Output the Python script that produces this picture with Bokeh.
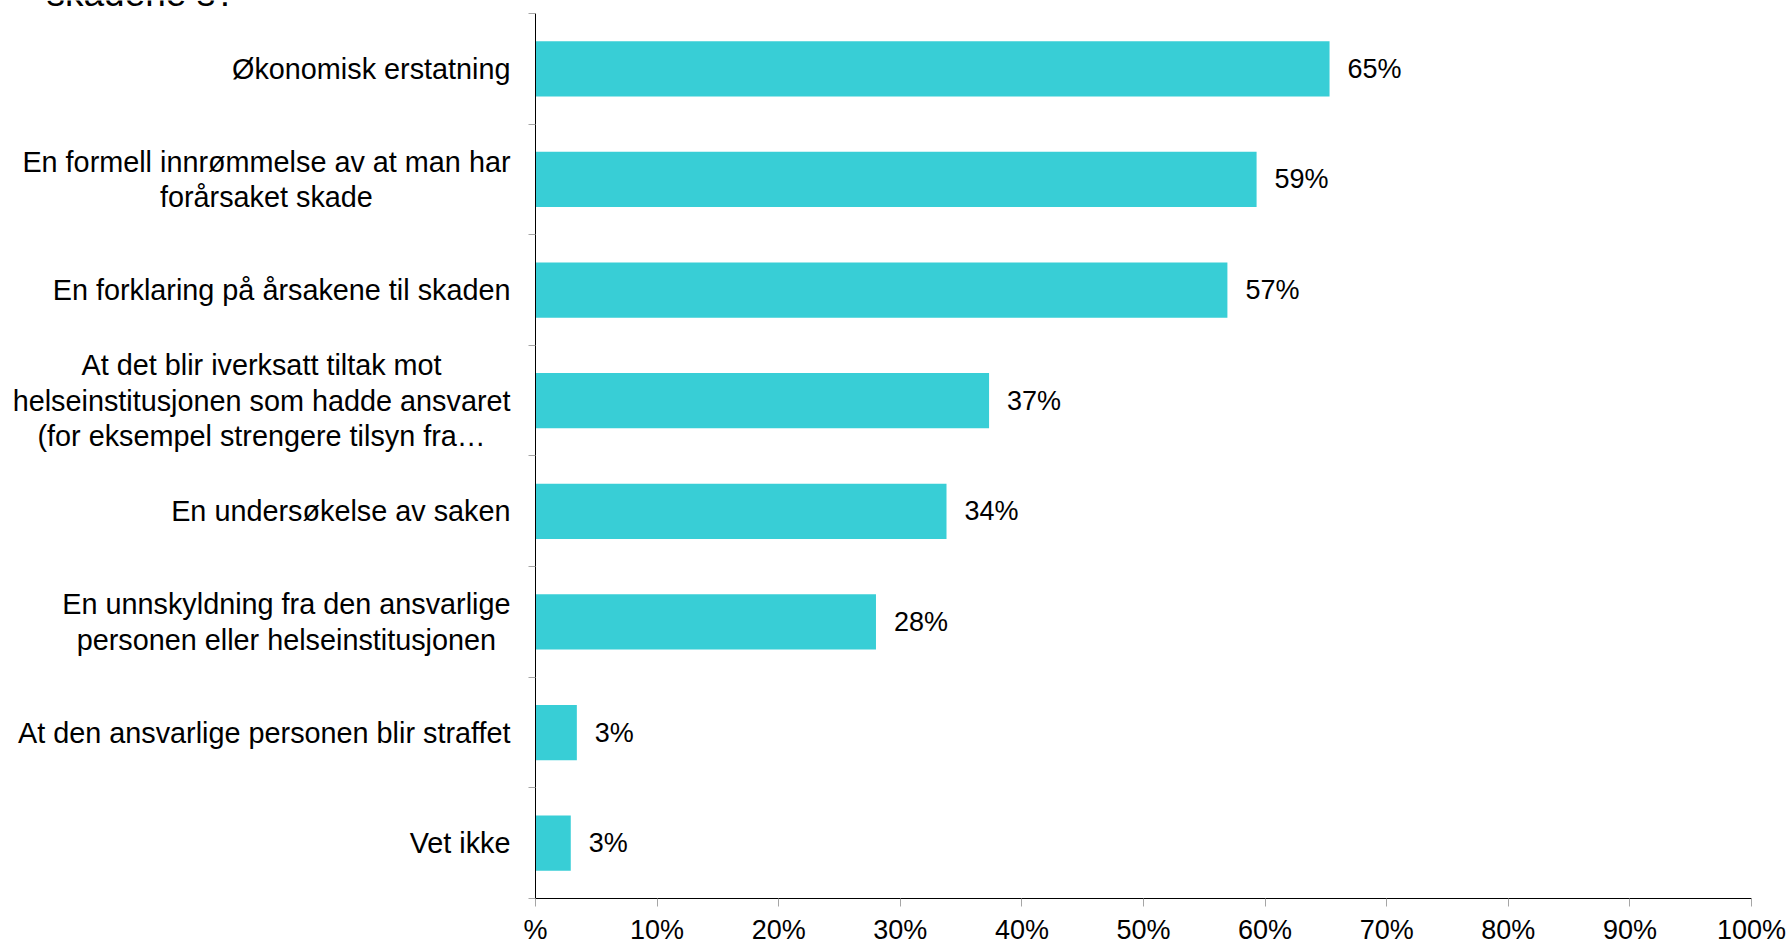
from bokeh.plotting import figure
from bokeh.layouts import row
from bokeh.models import Range1d, FixedTicker, LinearAxis, LabelSet, ColumnDataSource
from bokeh.core.properties import value
from bokeh.embed import file_html
from bokeh.resources import INLINE

# ---- data (top to bottom as shown) ----
categories = [
    "Økonomisk erstatning",
    "En formell innrømmelse av at man har\nforårsaket skade",
    "En forklaring på årsakene til skaden",
    "At det blir iverksatt tiltak mot\nhelseinstitusjonen som hadde ansvaret\n(for eksempel strengere tilsyn fra…",
    "En undersøkelse av saken",
    "En unnskyldning fra den ansvarlige\npersonen eller helseinstitusjonen",
    "At den ansvarlige personen blir straffet",
    "Vet ikke",
]
values = [65.3, 59.3, 56.9, 37.3, 33.8, 28.0, 3.4, 2.9]
value_labels = ["65%", "59%", "57%", "37%", "34%", "28%", "3%", "3%"]
x_ticks = [0, 10, 20, 30, 40, 50, 60, 70, 80, 90, 100]
x_tick_labels = ["%", "10%", "20%", "30%", "40%", "50%", "60%", "70%", "80%", "90%", "100%"]
title_fragment = ["skadene s?"]

FONT = "Liberation Sans"
BAR = "#38CED6"

# ---- layout constants (pixels) ----
W, H = 1791, 947
FRAME_LEFT, FRAME_TOP, FRAME_BOTTOM, FRAME_RIGHT_PAD = 535, 13, 899, 40
LABEL_W = 515           # width of the label panel on the left
LABEL_GAP = 25          # gap between category text and the axis
TITLE_X, TITLE_BASELINE = 46, 5

n = len(categories)
positions = [n - i - 0.5 for i in range(n)]
source = ColumnDataSource(dict(cat=categories, val=values, lab=value_labels, pos=positions))

# both panels share the same vertical frame (top of canvas to the x axis)
unit = (FRAME_BOTTOM - FRAME_TOP) / n
y_end = n + FRAME_TOP / unit

# ---- main bar chart ----
p = figure(width=W - LABEL_W, height=H, output_backend="svg", toolbar_location=None,
           x_range=Range1d(0, 100), y_range=Range1d(0, y_end),
           x_axis_location=None, y_axis_location=None,
           min_border_left=FRAME_LEFT - LABEL_W, min_border_right=FRAME_RIGHT_PAD,
           min_border_top=0, min_border_bottom=H - FRAME_BOTTOM)
p.outline_line_color = None
p.xgrid.visible = False
p.ygrid.visible = False

p.hbar(y="pos", right="val", left=0, height=0.5, source=source,
       fill_color=BAR, line_color=None)

xa = LinearAxis(ticker=FixedTicker(ticks=x_ticks))
xa.major_label_overrides = {t: s for t, s in zip(x_ticks, x_tick_labels)}
xa.axis_line_color = "black"
xa.major_tick_line_color = "#A6A6A6"
xa.major_tick_out = 8
xa.major_tick_in = 0
xa.minor_tick_line_color = None
xa.major_label_text_font = FONT
xa.major_label_text_font_size = "27px"
xa.major_label_text_color = "black"
xa.major_label_standoff = 8
p.add_layout(xa, "below")

ya_ticks = list(range(n + 1))
ya = LinearAxis(ticker=FixedTicker(ticks=ya_ticks), bounds=(0, n))
ya.major_label_overrides = {t: "" for t in ya_ticks}
ya.axis_line_color = "black"
ya.major_tick_line_color = "#A6A6A6"
ya.major_tick_out = 7
ya.major_tick_in = 0
ya.minor_tick_line_color = None
p.add_layout(ya, "left")

p.add_layout(LabelSet(x="val", y="pos", text="lab", source=source, x_offset=18,
                      text_baseline="middle", text_align="left",
                      text_font=value(FONT), text_font_size=value("27px"), text_color="black"))

# ---- category label panel ----
lp = figure(width=LABEL_W, height=H, output_backend="svg", toolbar_location=None,
            x_range=Range1d(0, LABEL_W), y_range=Range1d(0, y_end),
            x_axis_location=None, y_axis_location=None,
            min_border_left=0, min_border_right=0, min_border_top=0,
            min_border_bottom=H - FRAME_BOTTOM)
lp.outline_line_color = None
lp.xgrid.visible = False
lp.ygrid.visible = False

lsrc = ColumnDataSource(dict(cat=categories, pos=positions,
                             x=[FRAME_LEFT - LABEL_GAP] * n))
lp.text(x="x", y="pos", text="cat", source=lsrc, anchor="center_right",
        text_align="center", text_baseline="middle",
        text_font=value(FONT), text_font_size=value("28.8px"), text_color="black",
        text_line_height=1.1)

tsrc = ColumnDataSource(dict(t=title_fragment, x=[TITLE_X], y=[y_end - TITLE_BASELINE / unit]))
lp.text(x="x", y="y", text="t", source=tsrc, text_align="left", text_baseline="alphabetic",
        y_offset=-12,
        text_font=value(FONT), text_font_size=value("37px"), text_color="black")

layout = row(lp, p, spacing=0)
open("out.html", "w").write(file_html(layout, INLINE))
